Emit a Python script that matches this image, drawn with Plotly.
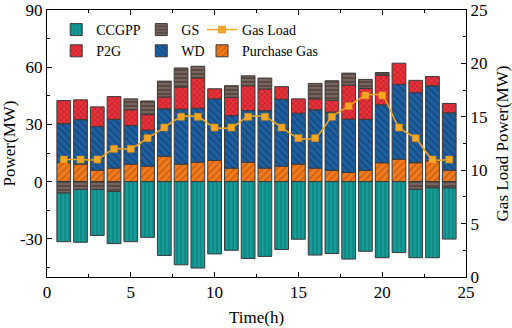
import plotly.graph_objects as go

hours = list(range(1, 25))
purchase_gas = [10.0, 9.2, 6.0, 7.1, 9.2, 8.1, 13.3, 9.2, 10.2, 11.1, 7.1, 10.2,
                7.1, 8.1, 9.2, 7.1, 5.9, 4.8, 5.9, 9.9, 11.8, 9.9, 10.9, 6.0]
wd = [20.4, 23.3, 22.9, 25.6, 20.2, 18.9, 24.9, 28.8, 28.3, 32.3, 27.5, 27.1,
      30.1, 35.1, 26.7, 30.6, 30.6, 28.0, 26.8, 30.4, 39.2, 36.8, 39.4, 30.1]
p2g = [12.1, 10.4, 10.3, 11.9, 8.3, 8.1, 6.2, 11.6, 15.9, 5.3, 9.6, 13.0,
       11.4, 6.6, 7.5, 5.7, 6.2, 17.8, 16.2, 15.5, 11.1, 6.4, 4.8, 4.9]
gs = [-6.0, -4.1, -4.1, -5.2, 5.7, 7.2, 8.3, 10.0, 6.1, None, 6.1, 5.2,
      5.7, None, None, 8.1, 10.2, 6.3, 4.7, 1.4, None, -4.1, -3.3, -3.3]
ccgpp = [-25.5, -27.7, -24.1, -27.3, -31.5, -29.2, -38.7, -43.6, -45.3, -37.9, -36.0, -40.3,
         -39.2, -35.6, -30.2, -38.5, -37.7, -40.6, -36.5, -39.9, -37.2, -35.8, -36.6, -26.8]
gas_load = [11, 11, 11, 12, 12, 13, 14, 15, 15, 14, 14, 15,
            15, 14, 13, 13, 15, 16, 17, 17, 14, 13, 11, 11]
power_ticks = [-30, 0, 30, 60, 90]
power_ticktext = ["-30", "0", "30", "60", "90"]

FONT = "Times New Roman, Liberation Serif, serif"
OUT = "#3a3a3a"
BW = 0.82

def bar(name, y, bg, fg, shape, legend, rank, size=5, sol=0.3):
    return go.Bar(
        x=hours, y=y, name=name, width=BW, legend=legend, legendrank=rank,
        marker=dict(color=bg, line=dict(color=OUT, width=1),
                    pattern=dict(shape=shape, fgcolor=fg, bgcolor=bg,
                                 size=size, solidity=sol)),
    )

fig = go.Figure()
fig.add_trace(bar("Purchase Gas", purchase_gas, "#f07a1e", "#a84300", "/", "legend3", 2))
fig.add_trace(bar("WD", wd, "#1d5f9f", "#0d3260", "\\", "legend2", 2))
fig.add_trace(bar("P2G", p2g, "#e8323b", "#8a1018", "x", "legend", 2, size=4, sol=0.35))
fig.add_trace(bar("GS", gs, "#5a4943", "#a8968e", "-", "legend2", 1, size=4, sol=0.35))
fig.add_trace(bar("CCGPP", ccgpp, "#149c99", "#0a5e5e", "|", "legend", 1, size=4, sol=0.3))
fig.add_trace(go.Scatter(
    x=hours, y=gas_load, name="Gas Load", yaxis="y2", mode="lines+markers",
    line=dict(color="#f5a623", width=1.5, shape="spline", smoothing=0.6),
    marker=dict(symbol="square", size=7, color="#f5a623",
                line=dict(color="#e08a10", width=0.5)),
    legend="legend3", legendrank=1,
))

axis_common = dict(
    showline=True, linecolor="black", linewidth=1, ticks="inside", ticklen=5,
    tickcolor="black", showgrid=False, zeroline=False, automargin=False,
    ticklabeloverflow="allow",
    tickfont=dict(family=FONT, size=17, color="black"),
)
leg_common = dict(font=dict(family=FONT, size=14, color="black"),
                  bgcolor="rgba(0,0,0,0)", yanchor="top", y=0.985,
                  xanchor="left", tracegroupgap=0, itemwidth=30)

fig.update_layout(
    width=512, height=328, margin=dict(l=47, r=46, t=10, b=51, autoexpand=False),
    paper_bgcolor="white", plot_bgcolor="white", barmode="relative",
    font=dict(family=FONT, color="black"),
    xaxis=dict(range=[0, 25], dtick=5, mirror="ticks",
               minor=dict(dtick=2.5, ticks="inside", ticklen=3, tickcolor="black"),
               title=dict(text="Time(h)", font=dict(family=FONT, size=17), standoff=9),
               **axis_common),
    yaxis=dict(range=[-50, 90], tickvals=power_ticks, ticktext=power_ticktext,
               minor=dict(dtick=15, ticks="inside", ticklen=3, tickcolor="black"),
               title=dict(text="Power(MW)", font=dict(family=FONT, size=17), standoff=5),
               **axis_common),
    yaxis2=dict(range=[0, 25], dtick=5, overlaying="y", side="right",
                minor=dict(dtick=2.5, ticks="inside", ticklen=3, tickcolor="black"),
                title=dict(text="Gas Load Power(MW)", font=dict(family=FONT, size=17), standoff=10),
                **axis_common),
    legend=dict(x=0.022, **leg_common),
    legend2=dict(x=0.225, **leg_common),
    legend3=dict(x=0.37, **leg_common),
)

fig.write_html("out.html", config={"displayModeBar": False},
               post_script="document.body.style.margin='0';")
